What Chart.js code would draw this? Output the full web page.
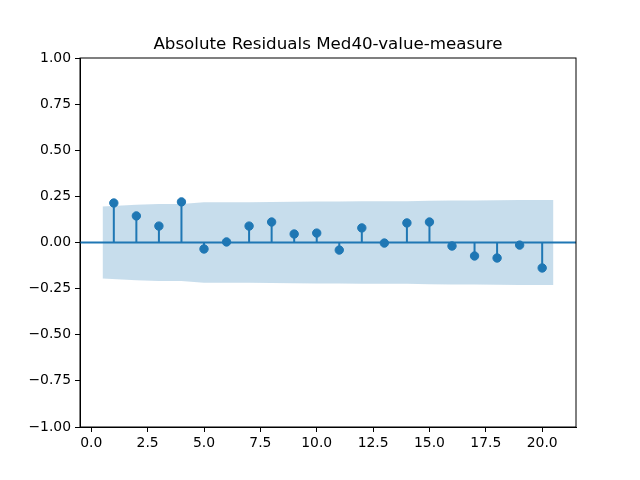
<!DOCTYPE html>
<html>
<head>
<meta charset="utf-8">
<script src="https://cdn.jsdelivr.net/npm/chart.js@4/dist/chart.umd.min.js"></script>
<style>
  html, body { margin: 0; padding: 0; background: #fff; }
  #wrap { width: 640px; height: 480px; }
</style>
</head>
<body>
<div id="wrap"><canvas id="chart-acf" width="640" height="480"></canvas></div>
<script>
const lags = [1, 2, 3, 4, 5, 6, 7, 8, 9, 10, 11, 12, 13, 14, 15, 16, 17, 18, 19, 20];
const acfValues = [0.214, 0.144, 0.089, 0.220, -0.035, 0.003, 0.089, 0.111, 0.046, 0.051,
  -0.041, 0.079, -0.003, 0.106, 0.111, -0.019, -0.073, -0.084, -0.014, -0.138];
// half-width of the confidence band at each lag
const bandValues = [0.195, 0.204, 0.208, 0.209, 0.218, 0.218, 0.218, 0.219, 0.221, 0.222,
  0.222, 0.223, 0.224, 0.224, 0.226, 0.228, 0.228, 0.229, 0.230, 0.230];
const xTicks = [0, 2.5, 5, 7.5, 10, 12.5, 15, 17.5, 20];
const yTicks = [-1, -0.75, -0.5, -0.25, 0, 0.25, 0.5, 0.75, 1];
const titleText = 'Absolute Residuals Med40-value-measure';

const blue = '#1f77b4';
const font = { family: 'DejaVu Sans', size: 13.9 };

// band spans half a lag past each end
const bandX = lags.map((lag, i) => (i === 0 ? lag - 0.5 : i === lags.length - 1 ? lag + 0.5 : lag));
const bandUpper = bandX.map((x, i) => ({ x, y: bandValues[i] }));
const bandLower = bandX.map((x, i) => ({ x, y: -bandValues[i] }));

const stems = [];
lags.forEach((lag, i) => {
  stems.push({ x: lag, y: 0 }, { x: lag, y: acfValues[i] }, { x: lag, y: null });
});

// frame on all four sides, title centred over the axes like matplotlib
const frame = {
  id: 'frame',
  afterDatasetsDraw(chart) {
    const { ctx, chartArea: a } = chart;
    ctx.save();
    ctx.strokeStyle = '#000';
    ctx.lineWidth = 1;
    ctx.strokeRect(a.left, a.top, a.right - a.left, a.bottom - a.top);
    ctx.fillStyle = '#000';
    ctx.font = '16.7px "DejaVu Sans"';
    ctx.textAlign = 'center';
    ctx.textBaseline = 'alphabetic';
    ctx.fillText(titleText, (a.left + a.right) / 2, a.top - 9.5);
    ctx.restore();
  },
};

const fmtTick = (digits) => (value) => {
  const s = Math.abs(value).toFixed(digits);
  return value < 0 ? '\u2212' + s : s;
};

new Chart(document.getElementById('chart-acf').getContext('2d'), {
  type: 'scatter',
  data: {
    datasets: [
      {
        label: 'upper',
        type: 'line',
        data: bandUpper,
        borderWidth: 0,
        pointRadius: 0,
        backgroundColor: 'rgba(31,119,180,0.25)',
        fill: '+1',
        tension: 0,
      },
      {
        label: 'lower',
        type: 'line',
        data: bandLower,
        borderWidth: 0,
        pointRadius: 0,
        fill: false,
        tension: 0,
      },
      {
        label: 'zero',
        type: 'line',
        data: [{ x: -0.5, y: 0 }, { x: 21.5, y: 0 }],
        borderColor: blue,
        borderWidth: 2,
        pointRadius: 0,
        fill: false,
      },
      {
        label: 'stems',
        type: 'line',
        data: stems,
        borderColor: blue,
        borderWidth: 2,
        pointRadius: 0,
        spanGaps: false,
        fill: false,
      },
      {
        label: 'acf',
        data: lags.map((lag, i) => ({ x: lag, y: acfValues[i] })),
        backgroundColor: blue,
        borderColor: blue,
        pointRadius: 4.2,
        pointHoverRadius: 4.2,
      },
    ],
  },
  options: {
    responsive: false,
    animation: false,
    layout: { padding: { left: 0, right: 64, top: 58, bottom: 0 } },
    plugins: {
      legend: { display: false },
      tooltip: { enabled: false },
      title: { display: false },
    },
    scales: {
      x: {
        type: 'linear',
        min: -0.5,
        max: 21.5,
        afterFit: (scale) => { scale.height = 53; },
        afterBuildTicks: (scale) => { scale.ticks = xTicks.map((v) => ({ value: v })); },
        ticks: { color: '#000', font, padding: 3, callback: fmtTick(1), maxRotation: 0 },
        grid: { display: true, drawOnChartArea: false, drawTicks: true, tickLength: 5, color: '#000' },
        border: { display: true, color: '#000' },
      },
      y: {
        type: 'linear',
        min: -1,
        max: 1,
        afterFit: (scale) => { scale.width = 80; },
        afterBuildTicks: (scale) => { scale.ticks = yTicks.map((v) => ({ value: v })); },
        ticks: { color: '#000', font, padding: 4, callback: fmtTick(2) },
        grid: { display: true, drawOnChartArea: false, drawTicks: true, tickLength: 5, color: '#000' },
        border: { display: true, color: '#000' },
      },
    },
  },
  plugins: [frame],
});
</script>
</body>
</html>
